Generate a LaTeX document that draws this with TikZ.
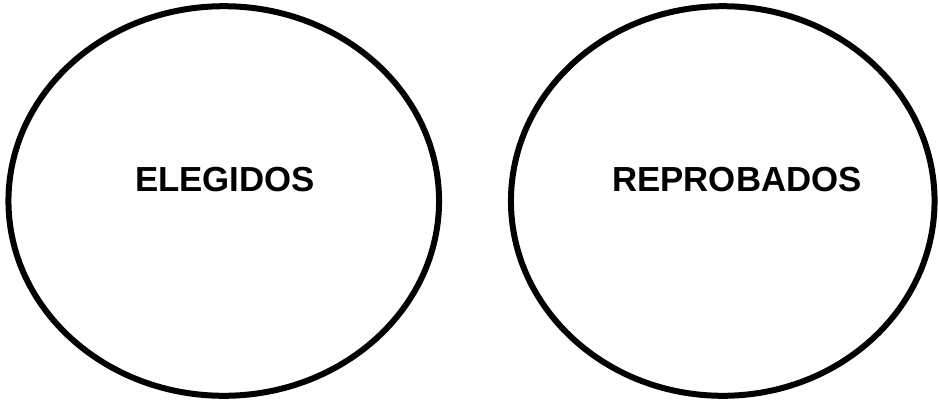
\documentclass[tikz,border=0pt]{standalone}
\usepackage{fontspec}
\setmainfont{Liberation Sans}
\begin{document}
\begin{tikzpicture}[x=1pt,y=-1pt,
  ring/.style={draw=black,line width=6pt},
  lbl/.style={font=\fontsize{34.8}{40}\selectfont\bfseries,inner sep=0pt,anchor=base}]
\useasboundingbox (0,0) rectangle (939,402);
\draw[ring] (223.75,201) ellipse [x radius=215.3, y radius=194.8];
\draw[ring] (722.75,201) ellipse [x radius=211.8, y radius=194.8];
\node[lbl] (a) at (225,191) {ELEGIDOS};
\node[lbl] (b) at (737,191) {REPROBADOS};
\end{tikzpicture}
\end{document}
